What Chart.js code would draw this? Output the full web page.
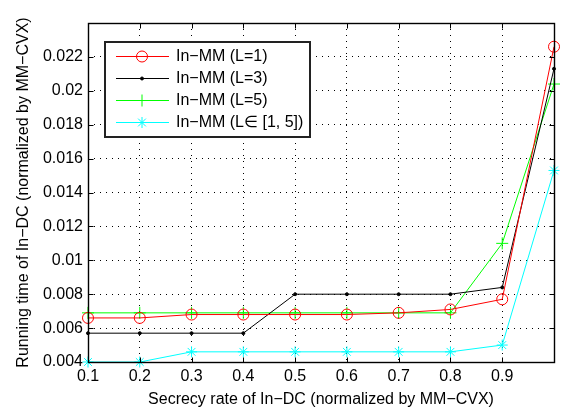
<!DOCTYPE html>
<html>
<head>
<meta charset="utf-8">
<script src="https://cdn.jsdelivr.net/npm/chart.js@4/dist/chart.umd.min.js"></script>
<style>
  html, body { margin: 0; padding: 0; background: #fff; }
  #wrap { width: 564px; height: 409px; }
</style>
</head>
<body>
<div id="wrap"><canvas id="timeChart" width="564" height="409"></canvas></div>
<script>
// secrecy rate (normalized), x positions of samples
const secrecyRate = [0.1, 0.2, 0.3, 0.4, 0.5, 0.6, 0.7, 0.8, 0.9, 1.0];

const seriesNames = ['In\u2212MM (L=1)', 'In\u2212MM (L=3)', 'In\u2212MM (L=5)', 'In\u2212MM (L\u2208 [1, 5])'];
const timeL1 = [0.0066, 0.0066, 0.0068, 0.0068, 0.0068, 0.0068, 0.0069, 0.0071, 0.0077, 0.0226];
const timeL3 = [0.0057, 0.0057, 0.0057, 0.0057, 0.0080, 0.0080, 0.0080, 0.0080, 0.0084, 0.0213];
const timeL5 = [0.0069, 0.0069, 0.0069, 0.0069, 0.0069, 0.0069, 0.0069, 0.0069, 0.0110, 0.0204];
const timeRange = [0.0040, 0.0040, 0.0046, 0.0046, 0.0046, 0.0046, 0.0046, 0.0046, 0.0050, 0.0153];

const xTicks = [0.1, 0.2, 0.3, 0.4, 0.5, 0.6, 0.7, 0.8, 0.9, 1.0];
const yTicks = [0.004, 0.006, 0.008, 0.01, 0.012, 0.014, 0.016, 0.018, 0.02, 0.022, 0.024];

const FONT = '"Liberation Sans", Arial, Helvetica, sans-serif';
const FSIZE = 16;

function toPoints(ys) {
    return ys.map((y, i) => ({ x: secrecyRate[i], y: y }));
}

// MATLAB-style box with inward ticks on all four sides
const framePlugin = {
    id: 'frame',
    afterDraw(chart) {
        const { ctx, chartArea: a } = chart;
        const xs = chart.scales.x, ys = chart.scales.y;
        const L = Math.round(a.left) + 0.5, R = Math.round(a.right) + 0.5;
        const T = Math.round(a.top) + 0.5, B = Math.round(a.bottom) + 0.5;
        ctx.save();
        ctx.strokeStyle = '#000';
        ctx.lineWidth = 1;
        ctx.beginPath();
        xTicks.forEach(v => {
            const px = Math.round(xs.getPixelForValue(v)) + 0.5;
            ctx.moveTo(px, B); ctx.lineTo(px, B - 5);
            ctx.moveTo(px, T); ctx.lineTo(px, T + 5);
        });
        yTicks.forEach(v => {
            const py = Math.round(ys.getPixelForValue(v)) + 0.5;
            ctx.moveTo(L, py); ctx.lineTo(L + 5, py);
            ctx.moveTo(R, py); ctx.lineTo(R - 5, py);
        });
        ctx.stroke();
        ctx.lineWidth = 1.4;
        ctx.strokeRect(L, T, R - L, B - T);
        ctx.restore();
    }
};

// legend box in the upper left of the plot
const boxLegendPlugin = {
    id: 'boxLegend',
    afterDatasetsDraw(chart) {
        const { ctx } = chart;
        const x0 = 105, y0 = 42, w = 205, h = 95;
        ctx.save();
        ctx.fillStyle = '#fff';
        ctx.fillRect(x0, y0, w, h);
        ctx.strokeStyle = '#222';
        ctx.lineWidth = 2;
        ctx.strokeRect(x0, y0, w, h);
        ctx.font = FSIZE + 'px ' + FONT;
        ctx.textBaseline = 'middle';
        chart.data.datasets.forEach((ds, i) => {
            const cy = 56 + i * 22;
            ctx.strokeStyle = ds.borderColor;
            ctx.lineWidth = 1;
            ctx.beginPath();
            ctx.moveTo(116, cy + 0.5);
            ctx.lineTo(169, cy + 0.5);
            ctx.stroke();
            ctx.fillStyle = ds.pointBackgroundColor;
            Chart.helpers.drawPoint(ctx, {
                pointStyle: ds.pointStyle,
                radius: ds.pointRadius,
                borderWidth: 1
            }, 142, cy + 0.5);
            ctx.fillStyle = '#000';
            ctx.fillText(ds.label, 176, cy + 1);
        });
        ctx.restore();
    }
};

new Chart(document.getElementById('timeChart').getContext('2d'), {
    type: 'line',
    data: {
        datasets: [
            {
                label: seriesNames[0], data: toPoints(timeL1),
                borderColor: '#ff0000', backgroundColor: 'rgba(0,0,0,0)',
                pointStyle: 'circle', pointRadius: 5.5, pointBorderColor: '#ff0000',
                pointBackgroundColor: 'rgba(0,0,0,0)'
            },
            {
                label: seriesNames[1], data: toPoints(timeL3),
                borderColor: '#000000', backgroundColor: '#000000',
                pointStyle: 'circle', pointRadius: 1.5, pointBorderColor: '#000',
                pointBackgroundColor: '#000'
            },
            {
                label: seriesNames[2], data: toPoints(timeL5),
                borderColor: '#00ff00', backgroundColor: '#00ff00',
                pointStyle: 'cross', pointRadius: 6, pointBorderColor: '#00ff00',
                pointBackgroundColor: '#00ff00'
            },
            {
                label: seriesNames[3], data: toPoints(timeRange),
                borderColor: '#00ffff', backgroundColor: '#00ffff',
                pointStyle: 'star', pointRadius: 5.5, pointBorderColor: '#00ffff',
                pointBackgroundColor: '#00ffff'
            }
        ].map(d => Object.assign({
            borderWidth: 1, pointBorderWidth: 1, pointHoverRadius: 5,
            tension: 0, fill: false
        }, d))
    },
    options: {
        responsive: false,
        animation: false,
        clip: false,
        layout: { padding: { left: 0, right: 10, top: 23, bottom: 0 } },
        plugins: {
            legend: { display: false },
            tooltip: { enabled: false }
        },
        scales: {
            x: {
                type: 'linear',
                min: 0.1, max: 1.0,
                afterBuildTicks: s => { s.ticks = xTicks.map(v => ({ value: v })); },
                afterFit: s => { s.height = 47; },
                ticks: {
                    color: '#000', padding: 5, maxRotation: 0, autoSkip: false,
                    font: { family: FONT, size: FSIZE },
                    callback: v => (v > 0.95 ? '' : v.toFixed(1))
                },
                grid: { color: '#000', lineWidth: 1, drawTicks: false },
                border: { display: false, dash: [1, 5] },
                title: {
                    display: true, text: 'Secrecy rate of In\u2212DC (normalized by MM\u2212CVX)',
                    color: '#000', font: { family: FONT, size: FSIZE }, padding: { top: 0, bottom: 0 }
                }
            },
            y: {
                type: 'linear',
                min: 0.004, max: 0.024,
                afterBuildTicks: s => { s.ticks = yTicks.map(v => ({ value: v })); },
                afterFit: s => { s.width = 88; },
                ticks: {
                    color: '#000', padding: 5, autoSkip: false,
                    font: { family: FONT, size: FSIZE },
                    callback: v => (v > 0.0235 ? '' : String(+v.toFixed(3)))
                },
                grid: { color: '#000', lineWidth: 1, drawTicks: false },
                border: { display: false, dash: [1, 5] },
                title: {
                    display: true, text: 'Running time of In\u2212DC (normalized by MM\u2212CVX)',
                    color: '#000', font: { family: FONT, size: FSIZE }, padding: { top: 14, bottom: 0 }
                }
            }
        }
    },
    plugins: [framePlugin, boxLegendPlugin]
});
</script>
</body>
</html>
